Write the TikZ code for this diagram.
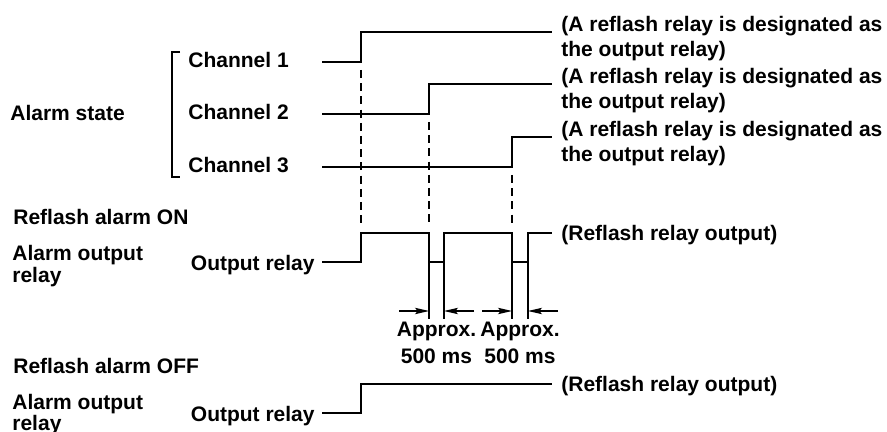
\documentclass[tikz,border=0pt]{standalone}
\usepackage{fontspec}
\setmainfont{Liberation Sans}
\usepackage{tikz}
\usetikzlibrary{calc}
\usetikzlibrary{arrows.meta}
\usetikzlibrary{positioning}
\tikzset{lbl/.style={font=\bfseries\fontsize{10.5}{12.2}\selectfont,inner sep=0pt,align=left}}
\tikzset{sig/.style={line width=1.1pt,line join=miter}}
\tikzset{guide/.style={line width=0.55pt,dash pattern=on 4pt off 2.6pt}}
\tikzset{meas/.style={line width=0.55pt}}
\tikzset{tip/.style={-{Stealth[length=7pt,width=3.2pt,inset=1.4pt]}}}

\begin{document}
\begin{tikzpicture}[x=0.5pt,y=-0.5pt]
\useasboundingbox (0,0) rectangle (887,432);

% alarm state of the three channels
\node[lbl,anchor=west] (state) at (10,113) {Alarm state};
\draw[meas] (180,52) -- (172,52) -- (172,177) -- (180,177);

\foreach \i/\y/\x in {1/62/361,2/114/429,3/167/512} {
	\node[lbl,anchor=west] (C\i) at (188,\y-2) {Channel \i};
	\coordinate (L\i) at (322,\y);
	\coordinate (R\i) at (\x,\y);
	\coordinate (E\i) at (552,\y-30);
	\draw[sig] (L\i) -- (R\i) |- (E\i);
	\node[lbl,anchor=north west] (N\i) at (561,\y-46) {(A reflash relay is designated as\\the output relay)};
	\draw[guide] (\x,\y+8) -- (\x,225);
}

% reflash alarm ON
\node[lbl,anchor=west] (on) at (13,217) {Reflash alarm ON};
\node[lbl,anchor=west,font=\bfseries\fontsize{10.5}{11}\selectfont] (aoOn) at (12,266) {Alarm output\\relay};
\node[lbl,anchor=east] (orOn) at (315,265) {Output relay};
\coordinate (onL) at (322,262);
\coordinate (onE) at (552,233);
\draw[sig] (onL) -| (361,233) -| (429,262) -| (444,233) -| (512,262) -| (528,233) -- (onE);
\node[lbl,anchor=west] (onOut) at (561,235) {(Reflash relay output)};

\foreach \a/\b/\k in {429/444/1,512/528/2} {
	\coordinate (dA\k) at (\a,262);
	\coordinate (dB\k) at (\b,262);
	\draw[meas] (dA\k) -- (\a,319);
	\draw[meas] (dB\k) -- (\b,319);
	\draw[meas,tip] (\a-30,311) -- (\a,311);
	\draw[meas,tip] (\b+30,311) -- (\b,311);
	\node[lbl,align=center,font=\bfseries\fontsize{10.5}{13.3}\selectfont] (ms\k) at ({(\a+\b)/2},343) {Approx.\\500 ms};
}

% reflash alarm OFF
\node[lbl,anchor=west] (off) at (13,366) {Reflash alarm OFF};
\node[lbl,anchor=west,font=\bfseries\fontsize{10.5}{10.5}\selectfont] (aoOff) at (12,415) {Alarm output\\relay};
\node[lbl,anchor=east] (orOff) at (315,416) {Output relay};
\coordinate (offL) at (322,413);
\coordinate (offE) at (552,384);
\draw[sig] (offL) -| (361,384) -- (offE);
\node[lbl,anchor=west] (offOut) at (561,386) {(Reflash relay output)};
\end{tikzpicture}
\end{document}
